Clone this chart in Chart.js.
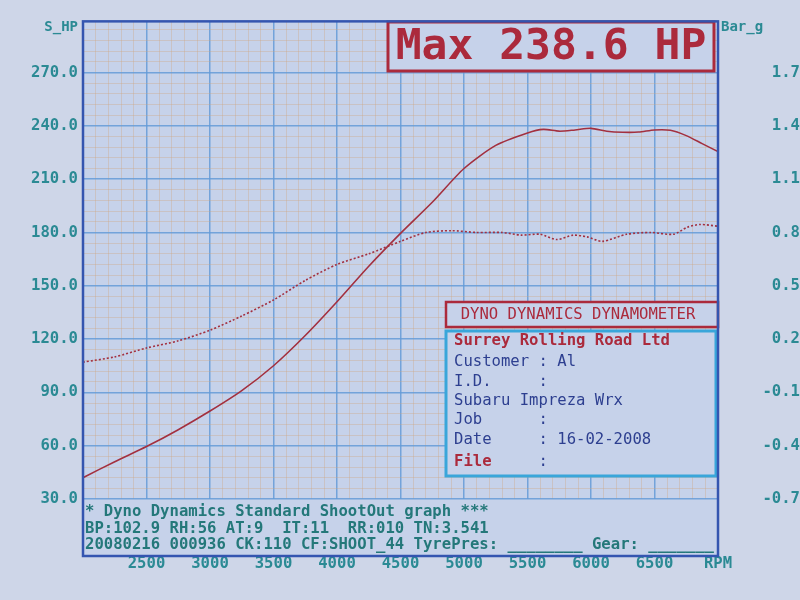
<!DOCTYPE html>
<html>
<head>
<meta charset="utf-8">
<script src="https://cdn.jsdelivr.net/npm/chart.js@4"></script>
<style>
  html, body { margin: 0; padding: 0; background: #ced6e8; }
  canvas { display: block; }
</style>
</head>
<body>
<canvas id="dyno" width="800" height="600"></canvas>
<script>
// power run (solid, S_HP) and boost (dotted, Bar_g)
const powerRpm = [2000, 2250, 2500, 2750, 3000, 3250, 3500, 3750, 4000, 4250, 4500, 4750, 5000, 5250, 5500, 5625, 5750, 5875, 6000, 6125, 6250, 6375, 6500, 6625, 6750, 6875, 7000];
const power = [42, 51, 59.5, 69, 79.5, 91, 105, 122, 141, 161, 179.5, 197, 216, 229, 236, 238, 237, 237.7, 238.6, 237, 236.4, 236.5, 237.7, 237.5, 234.5, 230, 225.5];

const boostRpm = [2000, 2250, 2500, 2750, 3000, 3250, 3500, 3750, 4000, 4250, 4500, 4700, 4900, 5100, 5300, 5450, 5600, 5730, 5860, 5970, 6090, 6280, 6470, 6650, 6760, 6860, 7000];
const boost = [0.07, 0.10, 0.15, 0.19, 0.25, 0.33, 0.42, 0.53, 0.62, 0.68, 0.75, 0.80, 0.81, 0.80, 0.80, 0.785, 0.79, 0.76, 0.785, 0.775, 0.75, 0.79, 0.80, 0.79, 0.83, 0.845, 0.835];

const hpLabels = [30, 60, 90, 120, 150, 180, 210, 240, 270];
const barLabels = ["-0.7", "-0.4", "-0.1", "0.2", "0.5", "0.8", "1.1", "1.4", "1.7"];
const rpmLabels = [2500, 3000, 3500, 4000, 4500, 5000, 5500, 6000, 6500];

const footerLines = [
  "* Dyno Dynamics Standard ShootOut graph ***",
  "BP:102.9 RH:56 AT:9  IT:11  RR:010 TN:3.541",
  "20080216 000936 CK:110 CF:SHOOT_44 TyrePres: ________ Gear: _______"
];

const mono = '"DejaVu Sans Mono", "Liberation Mono", monospace';
const bgOut = "#ced6e8";
const bgIn = "#c6d2ea";
const teal = "#2b8a94";
const red = "#ab2a3c";
const navy = "#2d3f90";
const gridMajor = "rgba(100,155,215,0.85)";
const gridMinor = "rgba(205,165,125,0.35)";

function ticksEvery(from, to, step) {
  const t = [];
  for (let v = from; v <= to + 1e-9; v += step) t.push({ value: Math.round(v * 1000) / 1000 });
  return t;
}

const screen = {
  id: "screen",
  beforeDraw(chart) {
    const c = chart.ctx, a = chart.chartArea;
    c.save();
    c.fillStyle = bgOut;
    c.fillRect(0, 0, chart.width, chart.height);
    c.fillStyle = bgIn;
    c.fillRect(a.left, a.top, a.right - a.left, 556 - a.top);
    c.restore();
  },
  afterDraw(chart) {
    const c = chart.ctx, a = chart.chartArea;
    c.save();
    c.textBaseline = "middle";

    // axis titles
    c.font = "bold 14px " + mono;
    c.fillStyle = teal;
    c.textAlign = "right";
    c.fillText("S_HP", 78, 27);
    c.textAlign = "left";
    c.fillText("Bar_g", 721, 27);

    // footer text block
    c.font = "bold 15.6px " + mono;
    c.fillStyle = "#24787a";
    footerLines.forEach((l, i) => c.fillText(l, 85, 512 + i * 16.5));

    // max box
    c.fillStyle = bgIn;
    c.fillRect(388, 22, 326, 49);
    c.strokeStyle = red;
    c.lineWidth = 3;
    c.strokeRect(388, 22, 326, 49);
    c.fillStyle = red;
    c.font = "bold 43px " + mono;
    c.textAlign = "center";
    c.fillText("Max 238.6 HP", 551, 48);

    // dynamometer header
    c.fillStyle = bgIn;
    c.fillRect(446, 302, 272, 25);
    c.lineWidth = 2.5;
    c.strokeRect(446, 302, 272, 25);
    c.fillStyle = red;
    c.font = "15.6px " + mono;
    c.fillText("DYNO DYNAMICS DYNAMOMETER", 578, 315);

    // customer box
    c.fillStyle = bgIn;
    c.fillRect(446, 331, 270, 145);
    c.strokeStyle = "#39a6da";
    c.lineWidth = 3;
    c.strokeRect(446, 331, 270, 145);
    c.textAlign = "left";
    c.font = "bold 15.6px " + mono;
    c.fillStyle = red;
    c.fillText("Surrey Rolling Road Ltd", 454, 341);
    c.fillText("File", 454, 462);
    c.font = "15.6px " + mono;
    c.fillStyle = navy;
    const rows = [
      ["Customer : Al", 362],
      ["I.D.     :", 382],
      ["Subaru Impreza Wrx", 401],
      ["Job      :", 420],
      ["Date     : 16-02-2008", 440],
      ["         :", 462]
    ];
    rows.forEach(r => c.fillText(r[0], 454, r[1]));

    // outer frame
    c.strokeStyle = "#3455b0";
    c.lineWidth = 2.5;
    c.strokeRect(a.left, a.top, a.right - a.left, 556 - a.top);
    c.restore();
  }
};

new Chart(document.getElementById("dyno"), {
  type: "line",
  data: {
    datasets: [
      {
        label: "S_HP",
        data: powerRpm.map((r, i) => ({ x: r, y: power[i] })),
        borderColor: "#a3303f",
        borderWidth: 1.6,
        pointRadius: 0,
        tension: 0.25,
        yAxisID: "y"
      },
      {
        label: "Bar_g",
        data: boostRpm.map((r, i) => ({ x: r, y: boost[i] })),
        borderColor: "#a3303f",
        borderWidth: 1.6,
        borderDash: [2, 2],
        pointRadius: 0,
        tension: 0.25,
        yAxisID: "y2"
      }
    ]
  },
  options: {
    responsive: false,
    animation: false,
    layout: { padding: { top: 15 } },
    plugins: { legend: { display: false }, tooltip: { enabled: false } },
    scales: {
      x: {
        type: "linear",
        min: 2000,
        max: 7000,
        afterBuildTicks: s => { s.ticks = ticksEvery(2000, 7000, 100); },
        afterFit: s => { s.height = 101; },
        border: { display: false },
        grid: {
          drawTicks: false,
          color: ctx => ctx.tick.value % 500 === 0 ? gridMajor : gridMinor,
          lineWidth: ctx => ctx.tick.value % 500 === 0 ? 1.5 : 1
        },
        ticks: {
          autoSkip: false,
          maxRotation: 0,
          padding: 56,
          color: teal,
          font: { family: mono, size: 15.6, weight: "bold" },
          callback: v => v === 7000 ? "RPM" : (rpmLabels.includes(v) ? String(v) : "")
        }
      },
      y: {
        position: "left",
        min: 30,
        max: 298.8,
        afterBuildTicks: s => { s.ticks = ticksEvery(30, 294, 6); },
        afterFit: s => { s.width = 83; },
        border: { display: false },
        grid: {
          drawTicks: false,
          color: ctx => ctx.tick.value % 30 === 0 ? gridMajor : gridMinor,
          lineWidth: ctx => ctx.tick.value % 30 === 0 ? 1.5 : 1
        },
        ticks: {
          autoSkip: false,
          padding: 5,
          color: teal,
          font: { family: mono, size: 15.6, weight: "bold" },
          callback: v => hpLabels.includes(v) ? v.toFixed(1) : ""
        }
      },
      y2: {
        position: "right",
        min: -0.7,
        max: 1.988,
        afterBuildTicks: s => { s.ticks = barLabels.map(l => ({ value: parseFloat(l) })); },
        afterFit: s => { s.width = 82; },
        border: { display: false },
        grid: { display: false, drawTicks: false },
        ticks: {
          autoSkip: false,
          crossAlign: "far",
          padding: 12,
          color: teal,
          font: { family: mono, size: 15.6, weight: "bold" },
          callback: v => v.toFixed(1)
        }
      }
    }
  },
  plugins: [screen]
});
</script>
</body>
</html>
